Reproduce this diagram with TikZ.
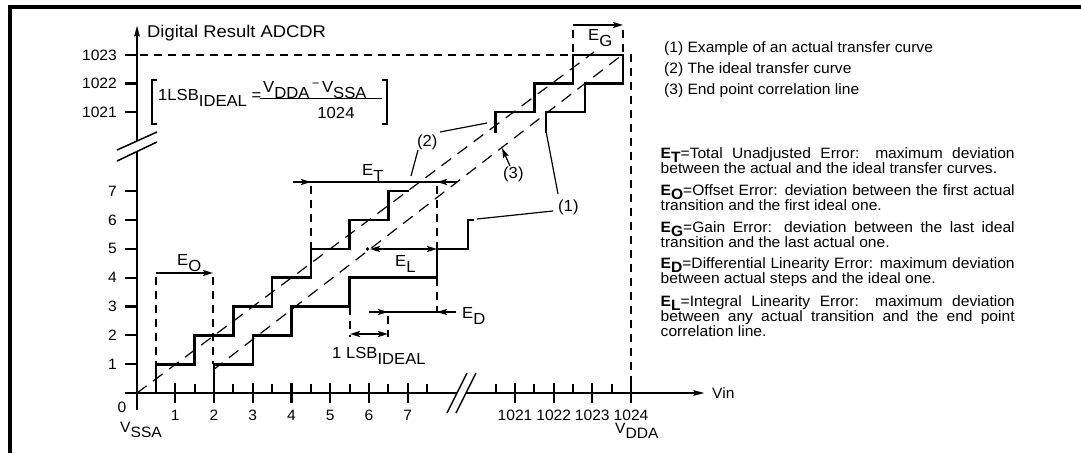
\documentclass[tikz,border=0pt]{standalone}
\usepackage{fontspec}
\setmainfont{Liberation Sans}[FakeStretch=1.04]
\usepackage{graphicx}
\usetikzlibrary{arrows.meta}
\newcommand\sbs[1]{\raisebox{-0.38em}{#1}}
\newcommand\sbp[1]{\raisebox{-0.25em}[\height][0pt]{#1}}
\begin{document}
\begin{tikzpicture}[x=1pt,y=-1pt,
  stair/.style={line width=2.6pt, line join=miter},
  axisl/.style={line width=2.6pt},
  tk/.style={line width=2.2pt},
  dsh/.style={line width=2.4pt, dash pattern=on 8pt off 6pt},
  ideal/.style={line width=1.2pt, dash pattern=on 12pt off 8pt},
  lead/.style={line width=1.2pt},
  brk/.style={line width=1.5pt},
  dimln/.style={line width=2.4pt},
  tipr/.style={-{Stealth[length=10pt,width=6pt,inset=2pt]}},
  tipb/.style={{Stealth[length=10pt,width=6pt,inset=2pt]}-{Stealth[length=10pt,width=6pt,inset=2pt]}},
  axtip/.style={-{Stealth[length=11pt,width=5pt,inset=1pt]}},
  lbl/.style={font=\fontsize{16}{16}\selectfont, inner sep=0pt},
  tick/.style={font=\fontsize{15}{15}\selectfont, inner sep=0pt},
  leg/.style={font=\fontsize{15}{15}\selectfont, inner sep=0pt},
  para/.style={font=\fontsize{15}{15.2}\selectfont, inner sep=0pt, text width=354pt, align=justify}
]
\useasboundingbox (0,0) rectangle (1081,453);
\fill[white] (0,0) rectangle (1081,453);
% frame
\draw[line width=3.5pt] (10,453) -- (10,7) -- (1081,7);

% ideal and end-point lines
\coordinate (io) at (137,393);
\coordinate (ie) at (594,52);
\draw[ideal] (io) -- (ie);
\coordinate (eo) at (213,370);
\coordinate (ee) at (622,55);
\draw[ideal] (eo) -- (ee);

% y axis
\draw[axisl] (137,410) -- (137,152);
\draw[axisl, axtip] (137,141) -- (137,25);
\draw[brk] (117,150) -- (157,132);
\draw[brk] (117,161) -- (157,142);
% x axis
\draw[axisl] (125,393) -- (457,393);
\draw[axisl, axtip] (466,393) -- (705,393);
\draw[brk] (447,413) -- (467,373);
\draw[brk] (456,413) -- (476,373);

% x ticks
\foreach \v in {1,...,7} \draw[tk] ({136.5+38.75*\v},383) -- ({136.5+38.75*\v},403);
\foreach \v in {0,...,7} \draw[tk] ({136.5+38.75*(\v+0.5)},384) -- ({136.5+38.75*(\v+0.5)},393);
\foreach \x in {515,553.7,592.3,631} \draw[tk] (\x,383) -- (\x,403);
\foreach \x in {495.7,534.3,573,611.7} \draw[tk] (\x,384) -- (\x,393);
% y ticks
\foreach \n in {1,...,7} \draw[tk] (125,{393-28.85*\n}) -- (137,{393-28.85*\n});
\foreach \y in {112,83.5,55} \draw[tk] (125,\y) -- (137,\y);

% tick labels
\foreach \n in {1,...,7} \node[tick,anchor=east] (yl\n) at (117,{393-28.85*\n}) {\n};
\node[tick,anchor=east] (yl1021) at (117,112) {1021};
\node[tick,anchor=east] (yl1022) at (117,83.5) {1022};
\node[tick,anchor=east] (yl1023) at (117,55) {1023};
\foreach \v in {1,...,7} \node[tick] (xl\v) at ({136.5+38.75*\v},415) {\v};
\node[tick] (xl1021) at (515,415) {1021};
\node[tick] (xl1022) at (553.7,415) {1022};
\node[tick] (xl1023) at (592.3,415) {1023};
\node[tick] (xl1024) at (631,415) {1024};
\node[tick] (xl0) at (122,407) {0};
\node[tick,anchor=base west] (vssa) at (120,432) {V\sbs{SSA}};
\node[tick,anchor=base west] (vdda) at (615,433) {V\sbs{DDA}};
\node[tick,anchor=west] (vin) at (712,393) {Vin};
\node[font=\fontsize{17}{17}\selectfont, inner sep=0pt, anchor=base west] (ylab) at (147,37) {\scalebox{1.04}[1]{Digital Result ADCDR}};

% formula
\draw[lead] (157,80) -- (152,80) -- (152,124) -- (157,124);
\draw[lead] (382,80) -- (387,80) -- (387,124) -- (382,124);
\node[lbl,anchor=base west] (lsbf) at (158,100) {1LSB\sbs{IDEAL} =};
\node[lbl,anchor=base west] (num) at (263,92) {V\sbs{DDA}\,\raisebox{0.3em}{\fontsize{12}{12}\selectfont \char"2212}\,V\sbs{SSA}};
\draw[line width=1.2pt] (260,98.5) -- (382,98.5);
\node[lbl] (den) at (336,112.5) {1024};

% dashed guide lines
\draw[dsh] (140,55) -- (631,55) -- (631,393);
\draw[dsh] (573,30) -- (573,55);
\draw[dsh] (623,30) -- (623,55);
\draw[dsh] (156,277) -- (156,364);
\draw[dsh] (213,277) -- (213,364);
\draw[dsh] (311,186) -- (311,249);
\draw[dsh] (437,186) -- (437,249);
\draw[dsh] (437,278) -- (437,313);
\draw[dsh] (350,307) -- (350,337);
\draw[dsh] (388,316) -- (388,337);

% ideal staircase
\draw[stair] (155.9,393) -- (155.9,364.2) -- (194.6,364.2) -- (194.6,335.3) -- (233.4,335.3) -- (233.4,306.5)
  -- (272.1,306.5) -- (272.1,277.6) -- (310.9,277.6) -- (310.9,248.8) -- (349.6,248.8) -- (349.6,219.9)
  -- (388.4,219.9) -- (388.4,191.1) -- (409,191.1);
\draw[stair] (495.7,133) -- (495.7,112) -- (534.3,112) -- (534.3,83.5) -- (573,83.5) -- (573,55) -- (623,55);
% actual staircase
\draw[stair] (214,393) -- (214,364.2) -- (252.8,364.2) -- (252.8,335.3) -- (291.5,335.3) -- (291.5,306.5)
  -- (349.6,306.5) -- (349.6,277.6) -- (437,277.6) -- (437,248.8) -- (468,248.8) -- (468,219.9) -- (474,219.9);
\draw[stair] (546,133) -- (546,112) -- (585,112) -- (585,83.5) -- (623,83.5) -- (623,55);

% dimension arrows
\draw[dimln, tipr] (156,273) -- (213,273);
\node[lbl,anchor=base west] (eO) at (177,265) {E\sbs{O}};
\draw[dimln, tipr] (573,25) -- (623,25);
\node[lbl,anchor=base west] (eG) at (588,40) {E\sbs{G}};
\draw[dimln] (293,182) -- (457,182);
\draw[dimln, tipr] (293,182) -- (311,182);
\draw[dimln, tipr] (457,182) -- (437,182);
\node[lbl,anchor=base west] (eT) at (362,175) {E\sbs{T}};
\draw[dimln, tipb] (370,249) -- (437,249);
\fill (367.5,249) circle (1.8);
\node[lbl,anchor=base west] (eL) at (395,266) {E\sbs{L}};
\draw[dimln] (369,312) -- (456,312);
\draw[dimln, tipr] (369,312) -- (388,312);
\draw[dimln, tipr] (456,312) -- (437,312);
\node[lbl,anchor=base west] (eD) at (462,318) {E\sbs{D}};
\draw[dimln, tipb] (350,334) -- (388,334);
\node[lbl,anchor=base west] (lsb1) at (332,358) {1 LSB\sbs{IDEAL}};

% callouts
\node[lbl,anchor=base west] (c2) at (417,146) {(2)};
\coordinate (c2a) at (487,123);
\coordinate (c2b) at (411,176);
\draw[lead] (440,132) -- (c2a);
\draw[lead] (418,150) -- (c2b);
\node[lbl,anchor=base west] (c3) at (503,178) {(3)};
\coordinate (c3a) at (502,148);
\draw[lead, -{Stealth[length=10pt,width=6pt,inset=2pt]}] (510,166) -- (c3a);
\node[lbl,anchor=base west] (c1) at (558,211) {(1)};
\coordinate (c1a) at (477,219);
\coordinate (c1b) at (546,131);
\draw[lead] (553,211) -- (c1a);
\draw[lead] (558,194) -- (c1b);

% legend
\node[leg,anchor=base west] (l1) at (664,52.5) {(1) Example of an actual transfer curve};
\node[leg,anchor=base west] (l2) at (664,73.5) {(2) The ideal transfer curve};
\node[leg,anchor=base west] (l3) at (664,94.5) {(3) End point correlation line};

\node[para,anchor=base west] (pT) at (660.5,158.4) {{\bfseries E\sbp{T}}=Total Unadjusted Error: maximum deviation\linebreak between the actual and the ideal transfer curves.};
\node[para,anchor=base west] (pO) at (660.5,195.4) {{\bfseries E\sbp{O}}=Offset Error: deviation between the first actual\linebreak transition and the first ideal one.};
\node[para,anchor=base west] (pG) at (660.5,232.4) {{\bfseries E\sbp{G}}=Gain Error: deviation between the last ideal\linebreak transition and the last actual one.};
\node[para,anchor=base west] (pD) at (660.5,268.4) {{\bfseries E\sbp{D}}=Differential Linearity Error: maximum deviation\linebreak between actual steps and the ideal one.};
\node[para,anchor=base west] (pL) at (660.5,306.4) {{\bfseries E\sbp{L}}=Integral Linearity Error: maximum deviation\linebreak between any actual transition and the end point\linebreak correlation line.};
\end{tikzpicture}
\end{document}
